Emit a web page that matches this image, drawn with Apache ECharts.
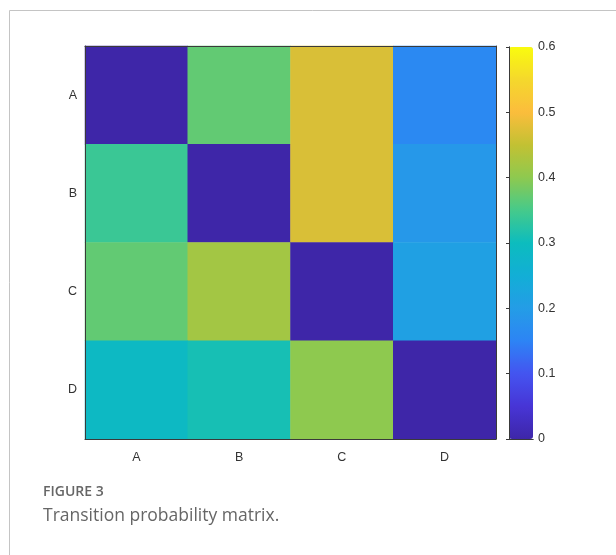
<!DOCTYPE html>
<html>
<head>
<meta charset="utf-8">
<title>Transition probability matrix</title>
<script src="https://cdn.jsdelivr.net/npm/echarts@6/dist/echarts.min.js"></script>
<style>
  html, body { margin: 0; padding: 0; background: #fff; }
  #main { width: 616px; height: 555px; }
</style>
</head>
<body>
<div id="main"></div>
<script>
// states of the chain (rows = from, columns = to)
var states = ['A', 'B', 'C', 'D'];
var rowA = [0, 0.37, 0.47, 0.16];
var rowB = [0.34, 0, 0.47, 0.19];
var rowC = [0.37, 0.42, 0, 0.21];
var rowD = [0.29, 0.31, 0.40, 0];
var rows = [rowA, rowB, rowC, rowD];

// colour bar range and tick step
var barMin = 0;
var barMax = 0.6;
var barStep = 0.1;

// parula-like colours, evenly spaced from barMin to barMax
var parula = ['#3e26a8', '#4735d6', '#4454f0', '#2d84f5', '#249de6', '#12aed6', '#0cbcbe',
  '#45ca8b', '#8ec94f', '#c2c133', '#fbbd3c', '#f5d82c', '#f9fb0e'];

var cells = [];
rows.forEach(function (row, r) {
  row.forEach(function (v, c) {
    cells.push([c, r, v]);
  });
});

var lineCol = '#3a3a3a';
var labelStyle = { color: '#333', fontFamily: 'Liberation Sans', fontSize: 12.5 };

var myChart = echarts.init(document.getElementById('main'));
var option = {
  backgroundColor: '#fff',
  animation: false,
  grid: [
    { left: 85, top: 46, width: 411, height: 393 },
    { left: 509, top: 47, width: 24, height: 392 }
  ],
  xAxis: [
    {
      gridIndex: 0, type: 'category', data: states, position: 'bottom', z: 5,
      axisLine: { lineStyle: { color: lineCol, width: 1 } },
      axisTick: { inside: true, alignWithLabel: true, length: 4, lineStyle: { color: lineCol } },
      axisLabel: Object.assign({ margin: 12 }, labelStyle),
      splitLine: { show: false }
    },
    {
      gridIndex: 0, type: 'category', data: states, position: 'top', z: 5,
      axisLine: { lineStyle: { color: lineCol, width: 1 } },
      axisTick: { inside: true, alignWithLabel: true, length: 4, lineStyle: { color: lineCol } },
      axisLabel: { show: false },
      splitLine: { show: false }
    },
    {
      gridIndex: 1, type: 'value', position: 'bottom', z: 6,
      axisLine: { lineStyle: { color: lineCol, width: 1 } },
      axisTick: { show: false }, axisLabel: { show: false }, splitLine: { show: false }
    },
    {
      gridIndex: 1, type: 'value', position: 'top', z: 6,
      axisLine: { lineStyle: { color: lineCol, width: 1 } },
      axisTick: { show: false }, axisLabel: { show: false }, splitLine: { show: false }
    }
  ],
  yAxis: [
    {
      gridIndex: 0, type: 'category', data: states, inverse: true, position: 'left', z: 5,
      axisLine: { lineStyle: { color: lineCol, width: 1 } },
      axisTick: { inside: true, alignWithLabel: true, length: 4, lineStyle: { color: lineCol } },
      axisLabel: Object.assign({ margin: 8 }, labelStyle),
      splitLine: { show: false }
    },
    {
      gridIndex: 0, type: 'category', data: states, inverse: true, position: 'right', z: 5,
      axisLine: { lineStyle: { color: lineCol, width: 1 } },
      axisTick: { inside: true, alignWithLabel: true, length: 4, lineStyle: { color: lineCol } },
      axisLabel: { show: false },
      splitLine: { show: false }
    },
    {
      gridIndex: 1, type: 'value', min: barMin, max: barMax, interval: barStep, position: 'right', z: 6,
      axisLine: { show: true, lineStyle: { color: lineCol, width: 1 } },
      axisTick: { show: true, inside: true, length: 3, lineStyle: { color: lineCol } },
      axisLabel: Object.assign({ margin: 5 }, labelStyle),
      splitLine: { show: false }
    },
    {
      gridIndex: 1, type: 'value', min: barMin, max: barMax, position: 'left', z: 6,
      axisLine: { show: true, lineStyle: { color: lineCol, width: 1 } },
      axisTick: { show: false }, axisLabel: { show: false }, splitLine: { show: false }
    }
  ],
  visualMap: {
    type: 'continuous',
    min: barMin,
    max: barMax,
    seriesIndex: 0,
    calculable: false,
    orient: 'vertical',
    left: 509,
    top: 47,
    itemWidth: 24,
    itemHeight: 392,
    padding: 0,
    inRange: { color: parula }
  },
  series: [
    {
      type: 'heatmap',
      xAxisIndex: 0,
      yAxisIndex: 0,
      data: cells,
      itemStyle: { borderWidth: 0 },
      emphasis: { disabled: true }
    }
  ],
  graphic: [
    // figure frame
    { type: 'line', shape: { x1: 9.5, y1: 10.5, x2: 616, y2: 10.5 }, style: { stroke: '#c4c4c4', lineWidth: 1 } },
    { type: 'line', shape: { x1: 9.5, y1: 10.5, x2: 9.5, y2: 555 }, style: { stroke: '#c4c4c4', lineWidth: 1 } },
    {
      type: 'text', left: 43, top: 485,
      style: { text: 'FIGURE 3', fill: '#666', font: '600 14px "Open Sans"' }
    },
    {
      type: 'text', left: 43, top: 507,
      style: { text: 'Transition probability matrix.', fill: '#666', font: '17.5px "Open Sans"' }
    }
  ]
};
myChart.setOption(option);
window.onresize = myChart.resize;
</script>
</body>
</html>
